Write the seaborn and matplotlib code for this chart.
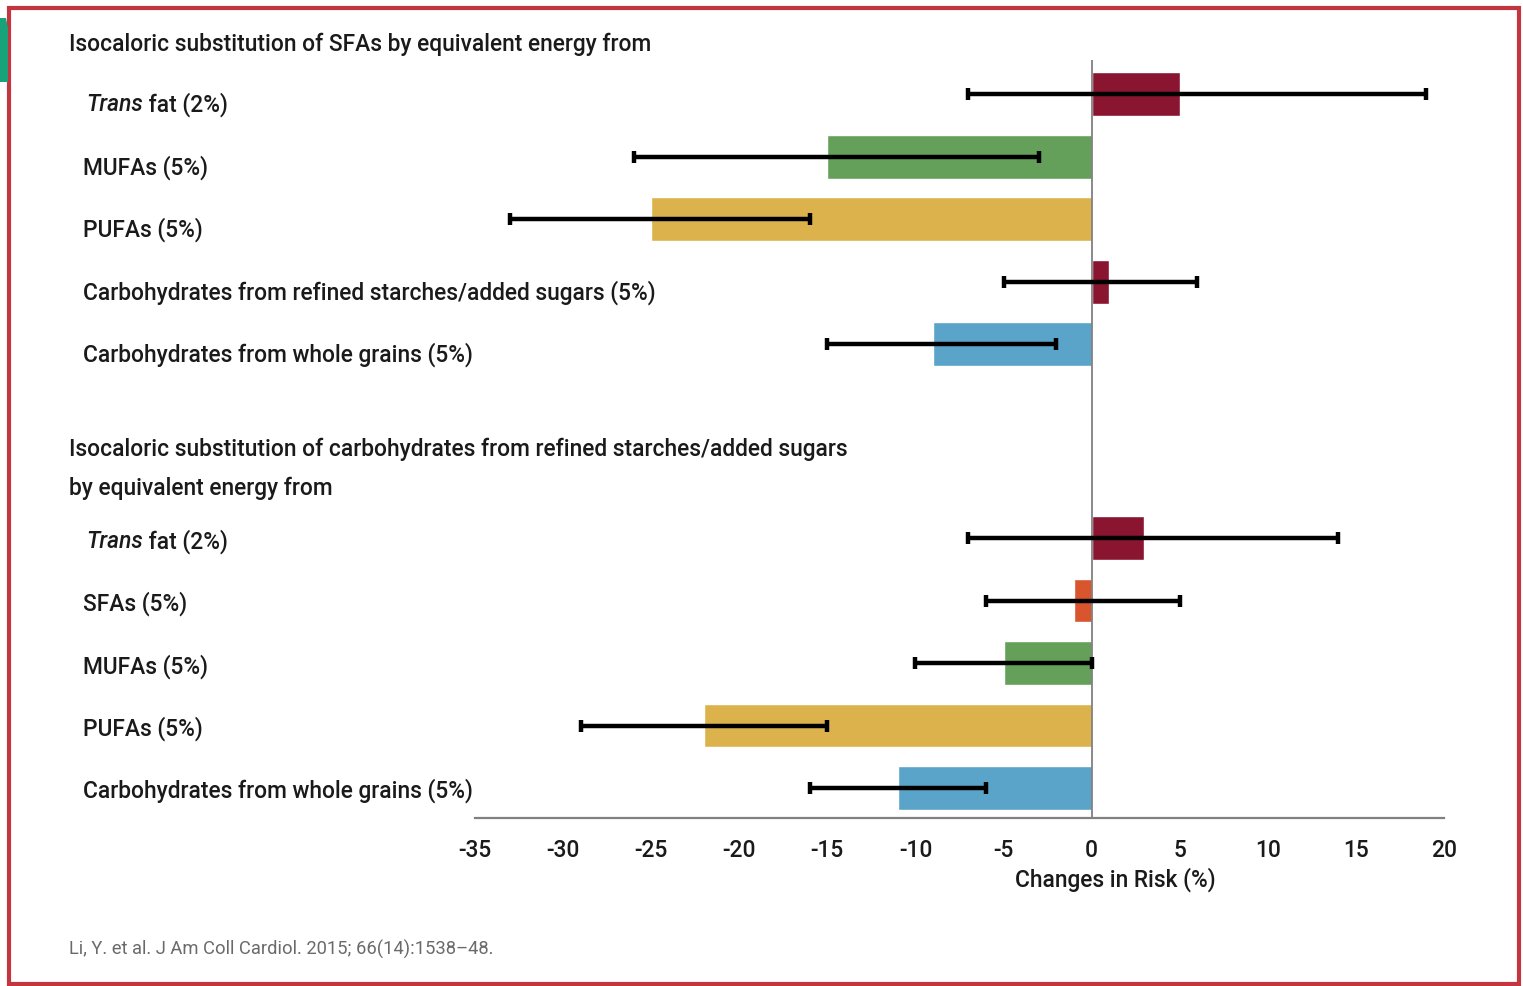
import numpy as np
import pandas as pd
import matplotlib.pyplot as plt
import matplotlib.transforms as mtransforms
from matplotlib.patches import Rectangle, Polygon
import seaborn as sns

sns.set_theme(style="white")
plt.rcParams['font.family'] = ['Roboto', 'DejaVu Sans']

# ---------------------------------------------------------------
# DATA (Li et al. 2015)
# ---------------------------------------------------------------
header1 = "Isocaloric substitution of SFAs by equivalent energy from"
header2a = "Isocaloric substitution of carbohydrates from refined starches/added sugars"
header2b = "by equivalent energy from"

g1_labels = ['Trans fat (2%)', 'MUFAs (5%)', 'PUFAs (5%)',
             'Carbohydrates from refined starches/added sugars (5%)',
             'Carbohydrates from whole grains (5%)']
g1_change = [5, -15, -25, 1, -9]
g1_low = [-7, -26, -33, -5, -15]
g1_high = [19, -3, -16, 6, -2]
g1_kind = ['trans', 'mufa', 'pufa', 'refined', 'whole']

g2_labels = ['Trans fat (2%)', 'SFAs (5%)', 'MUFAs (5%)', 'PUFAs (5%)',
             'Carbohydrates from whole grains (5%)']
g2_change = [3, -1, -5, -22, -11]
g2_low = [-7, -6, -10, -29, -16]
g2_high = [14, 5, 0, -15, -6]
g2_kind = ['trans', 'sfa', 'mufa', 'pufa', 'whole']

kind_colors = {'trans': '#8a1530', 'refined': '#8a1530', 'mufa': '#65a05a',
               'pufa': '#dcb24c', 'whole': '#5aa4c9', 'sfa': '#d9552d'}

xticks = [-35, -30, -25, -20, -15, -10, -5, 0, 5, 10, 15, 20]
xlabel = "Changes in Risk (%)"
source = "Li, Y. et al. J Am Coll Cardiol. 2015; 66(14):1538\u201348."

# ---------------------------------------------------------------
# TABLE
# ---------------------------------------------------------------
pos1 = np.arange(len(g1_labels)).astype(float)
pos2 = np.arange(len(g2_labels)) + 7.1
df = pd.DataFrame({
    'pos': np.concatenate([pos1, pos2]),
    'change': g1_change + g2_change,
    'low': g1_low + g2_low,
    'high': g1_high + g2_high,
    'kind': g1_kind + g2_kind,
    'label': g1_labels + g2_labels,
})
df['row'] = ['r%d' % i for i in range(len(df))]
# labels sit a little below the bar centre in the original (less so in group 2)
df['label_y'] = df['pos'] + np.where(df['pos'] < 5, 0.17, 0.05)
palette = {r: kind_colors[k] for r, k in zip(df['row'], df['kind'])}

# ---------------------------------------------------------------
# PLOT
# ---------------------------------------------------------------
W, H = 1523, 986
fig = plt.figure(figsize=(W / 100, H / 100), dpi=100)
ax = fig.add_axes([475 / W, 1 - 818 / H, (1444 - 475) / W, 758 / H])

sns.barplot(data=df, x='change', y='pos', hue='row', palette=palette, orient='h',
            native_scale=True, width=0.7, dodge=False, legend=False,
            errorbar=None, saturation=1, ax=ax)
ax.errorbar(df['change'], df['pos'],
            xerr=[df['change'] - df['low'], df['high'] - df['change']],
            fmt='none', ecolor='black', elinewidth=3.2, capsize=4.5, capthick=3.2, zorder=5)
ax.axvline(0, color='#808080', lw=1.3, zorder=4)

FS = 16.4
TXT = '#1a1a1a'
ax.set_xlim(-35, 20)
ax.set_ylim(11.58, -0.55)
ax.set_xticks(xticks)
ax.set_xticklabels([str(t) for t in xticks], fontsize=FS, color=TXT, fontweight='medium')
ax.set_yticks([])
ax.set_ylabel('')
ax.set_xlabel(xlabel, fontsize=FS, color=TXT, fontweight='medium')
ax.xaxis.set_label_coords((1115 - 475) / (1444 - 475), -0.065)
for s in ['top', 'right', 'left']:
    ax.spines[s].set_visible(False)
ax.spines['bottom'].set_color('#808080')
ax.spines['bottom'].set_linewidth(1.6)
ax.tick_params(axis='x', direction='out', length=7, width=1.5, color='#808080', pad=8)

# row labels and group headers on the left
tr = mtransforms.blended_transform_factory(fig.transFigure, ax.transData)
txt_kw = dict(fontsize=FS, color=TXT, fontweight='medium', va='center', ha='left',
              transform=tr, clip_on=False)
for ly, lab in zip(df['label_y'], df['label']):
    if lab.startswith('Trans'):
        t = ax.text(86 / W, ly, 'Trans', style='italic', **txt_kw)
        ax.annotate(lab[len('Trans'):], xy=(1, 0.5), xycoords=t, va='center', ha='left',
                    fontsize=FS, color=TXT, fontweight='medium')
    else:
        ax.text(83 / W, ly, lab, **txt_kw)

ax.text(69 / W, -0.8, header1, **txt_kw)
ax.text(69 / W, 5.68, header2a, **txt_kw)
ax.text(69 / W, 6.3, header2b, **txt_kw)

fig.text(69 / W, 1 - 949 / H, source, fontsize=13.2, color='#6a6a6a', va='center', ha='left')

# frame + corner mark
fig.patches.append(Rectangle((9 / W, 2 / H), 1510 / W, 976 / H, transform=fig.transFigure,
                             fill=False, edgecolor='#c4363f', lw=3))
fig.patches.append(Polygon([(0, 1 - 18 / H), (6 / W, 1 - 18 / H), (8 / W, 1 - 28 / H),
                            (8 / W, 1 - 82 / H), (0, 1 - 82 / H)], closed=True,
                           transform=fig.transFigure, facecolor='#17a27a', edgecolor='none'))

plt.savefig("out.png", dpi=100)
plt.close()
